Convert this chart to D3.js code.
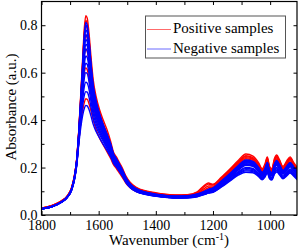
<!DOCTYPE html>
<html>
<head>
<meta charset="utf-8">
<script src="https://cdn.jsdelivr.net/npm/d3@7"></script>
<style>
  html, body { margin: 0; padding: 0; background: #fff; }
  svg { display: block; }
  svg text { font-family: "Liberation Serif", "DejaVu Serif", serif !important; }
</style>
</head>
<body>
<svg id="chart" width="300" height="251"></svg>
<script>
// ---------- data ----------
const wavenumbers = [1800,1760,1730,1710,1695,1685,1677,1670,1663,1656,1650,1645,1640,1634,1627,1619,1609,1597,1584,1571,1558,1548,1538,1528,1518,1505,1490,1470,1430,1380,1330,1290,1255,1230,1216,1200,1170,1140,1110,1085,1060,1040,1028,1018,1010,1002,994,985,977,967,955,942,930,918,905];

const positiveSamples = [
  [.030,.042,.060,.080,.115,.165,.235,.350,.500,.660,.790,.840,.830,.770,.670,.570,.500,.445,.400,.360,.310,.265,.245,.222,.200,.165,.138,.118,.100,.090,.085,.086,.098,.125,.135,.130,.160,.195,.232,.257,.248,.220,.195,.215,.245,.205,.195,.238,.253,.232,.205,.228,.245,.222,.200],
  [.028,.040,.058,.078,.112,.162,.232,.345,.490,.645,.770,.820,.805,.745,.645,.550,.485,.430,.385,.345,.300,.258,.238,.216,.195,.161,.134,.115,.098,.088,.083,.084,.095,.120,.130,.127,.156,.190,.226,.250,.242,.214,.192,.210,.240,.200,.190,.232,.248,.228,.200,.222,.240,.218,.196],
  [.029,.041,.059,.079,.113,.163,.233,.345,.488,.640,.760,.800,.785,.725,.625,.535,.472,.420,.378,.338,.295,.255,.235,.213,.192,.160,.133,.114,.097,.087,.082,.083,.092,.112,.122,.122,.152,.186,.222,.246,.238,.210,.188,.206,.236,.196,.186,.228,.244,.224,.197,.218,.236,.214,.192],
  [.030,.042,.060,.080,.114,.164,.232,.340,.475,.615,.725,.760,.745,.690,.600,.515,.455,.405,.365,.328,.288,.250,.231,.210,.189,.157,.131,.112,.096,.086,.081,.082,.090,.105,.115,.117,.148,.182,.218,.242,.235,.208,.186,.204,.233,.194,.184,.225,.241,.221,.195,.216,.233,.212,.190],
  [.029,.040,.058,.078,.110,.158,.225,.330,.455,.580,.675,.700,.690,.640,.560,.485,.430,.385,.348,.312,.275,.241,.224,.203,.183,.152,.127,.109,.094,.084,.079,.080,.087,.100,.108,.112,.142,.176,.212,.237,.230,.204,.183,.200,.228,.190,.180,.220,.236,.216,.190,.211,.228,.207,.186],
  [.028,.039,.057,.077,.108,.155,.220,.320,.430,.530,.600,.620,.612,.575,.510,.445,.400,.360,.328,.296,.262,.233,.216,.196,.176,.146,.122,.105,.091,.082,.077,.078,.085,.096,.104,.108,.138,.170,.205,.228,.222,.197,.177,.193,.220,.184,.175,.213,.228,.209,.185,.205,.221,.201,.181],
  [.027,.038,.055,.075,.105,.150,.210,.300,.385,.440,.475,.490,.488,.470,.440,.400,.360,.325,.295,.267,.238,.212,.196,.178,.160,.135,.115,.100,.088,.080,.075,.076,.082,.092,.099,.104,.130,.160,.192,.212,.207,.185,.168,.182,.205,.174,.166,.200,.213,.196,.175,.193,.207,.189,.170]
];

const negativeSamples = [
  [.027,.038,.056,.076,.110,.160,.230,.342,.485,.638,.762,.812,.800,.742,.642,.548,.482,.428,.382,.342,.300,.258,.238,.216,.193,.159,.132,.112,.095,.085,.080,.081,.089,.100,.108,.114,.144,.176,.210,.232,.226,.200,.180,.196,.222,.188,.178,.215,.230,.212,.188,.206,.222,.204,.185],
  [.026,.037,.055,.075,.108,.158,.228,.338,.478,.628,.750,.800,.788,.732,.634,.540,.476,.423,.378,.338,.296,.255,.235,.213,.191,.157,.130,.110,.094,.084,.079,.080,.088,.099,.107,.113,.142,.174,.208,.230,.224,.198,.178,.194,.220,.186,.176,.213,.228,.210,.186,.204,.220,.202,.183],
  [.027,.038,.056,.076,.109,.158,.227,.335,.470,.615,.732,.780,.768,.715,.622,.532,.468,.416,.372,.333,.292,.252,.232,.210,.189,.155,.129,.110,.093,.083,.078,.079,.087,.097,.105,.111,.140,.171,.205,.226,.220,.195,.176,.192,.216,.183,.174,.210,.224,.207,.184,.201,.217,.199,.181],
  [.025,.036,.054,.074,.107,.156,.225,.332,.462,.602,.715,.760,.750,.698,.610,.522,.460,.410,.366,.328,.288,.249,.229,.208,.187,.154,.127,.108,.092,.082,.077,.078,.086,.096,.104,.110,.138,.169,.202,.223,.217,.193,.174,.190,.213,.181,.172,.207,.221,.204,.181,.198,.214,.196,.178],
  [.026,.037,.055,.075,.107,.155,.223,.328,.455,.590,.698,.740,.730,.680,.596,.512,.452,.403,.361,.323,.284,.246,.226,.206,.185,.152,.126,.107,.091,.081,.076,.077,.085,.095,.103,.108,.136,.167,.199,.220,.214,.190,.171,.187,.210,.178,.170,.204,.218,.201,.179,.196,.211,.194,.176],
  [.027,.038,.056,.076,.108,.155,.222,.325,.448,.578,.680,.720,.712,.664,.582,.502,.444,.397,.356,.319,.281,.244,.224,.204,.183,.151,.125,.106,.091,.081,.076,.077,.084,.094,.101,.107,.134,.164,.196,.216,.211,.188,.169,.185,.207,.176,.168,.201,.215,.198,.177,.193,.208,.191,.174],
  [.025,.036,.054,.074,.106,.153,.219,.320,.440,.565,.662,.700,.692,.646,.568,.490,.435,.390,.350,.314,.277,.241,.222,.202,.181,.149,.124,.105,.090,.080,.075,.076,.083,.093,.100,.105,.132,.162,.193,.213,.208,.185,.167,.182,.204,.174,.166,.198,.212,.195,.175,.190,.205,.189,.172],
  [.026,.037,.055,.075,.106,.152,.217,.316,.430,.548,.636,.670,.664,.622,.550,.477,.424,.381,.343,.308,.272,.237,.219,.199,.179,.147,.122,.104,.089,.079,.075,.076,.082,.092,.099,.104,.130,.160,.191,.210,.205,.183,.165,.180,.201,.172,.164,.196,.209,.193,.173,.188,.203,.187,.170],
  [.025,.036,.054,.074,.105,.150,.214,.311,.420,.530,.610,.640,.635,.598,.530,.462,.413,.372,.336,.302,.268,.234,.216,.196,.176,.145,.121,.103,.088,.079,.074,.075,.081,.091,.098,.102,.128,.156,.184,.200,.196,.176,.160,.174,.194,.166,.158,.188,.200,.185,.167,.181,.194,.180,.163],
  [.026,.037,.055,.075,.105,.150,.213,.308,.410,.508,.578,.600,.596,.565,.505,.443,.398,.360,.326,.294,.262,.230,.212,.193,.174,.143,.119,.102,.087,.078,.073,.074,.080,.090,.097,.101,.125,.152,.180,.196,.192,.172,.157,.170,.190,.163,.156,.184,.195,.181,.163,.177,.190,.176,.160],
  [.025,.036,.054,.074,.104,.149,.211,.304,.398,.485,.542,.560,.556,.532,.480,.425,.385,.350,.318,.288,.257,.227,.209,.190,.171,.141,.118,.101,.086,.077,.072,.073,.079,.088,.094,.098,.122,.149,.176,.191,.187,.168,.154,.166,.185,.159,.152,.179,.190,.176,.159,.172,.185,.171,.155],
  [.026,.037,.055,.075,.104,.148,.209,.300,.388,.460,.505,.520,.518,.498,.455,.408,.372,.340,.310,.281,.252,.223,.206,.188,.170,.140,.117,.100,.086,.077,.072,.073,.078,.087,.093,.097,.120,.147,.173,.186,.183,.165,.151,.163,.181,.156,.150,.176,.186,.173,.156,.169,.181,.168,.152],
  [.025,.036,.054,.073,.102,.146,.205,.292,.365,.420,.450,.462,.460,.446,.418,.382,.352,.325,.298,.272,.245,.218,.202,.184,.166,.138,.116,.099,.085,.076,.071,.072,.077,.086,.092,.096,.118,.144,.169,.180,.178,.161,.148,.160,.177,.153,.147,.172,.181,.169,.153,.165,.177,.164,.148]
];

const xMajorTicks = [1800, 1600, 1400, 1200, 1000];
const xMinorTicks = [1700, 1500, 1300, 1100];
const yMajorTicks = [0.0, 0.2, 0.4, 0.6, 0.8];
const yMinorTicks = [0.1, 0.3, 0.5, 0.7];
const legendLabels = ["Positive samples", "Negative samples"];
const seriesColors = ["#ff0000", "#0000ff"];
const legendColors = ["#ff6b6b", "#6b6bff"];

// ---------- layout ----------
const FONT = "Liberation Serif, DejaVu Serif, serif";
const svg = d3.select("#chart").attr("font-family", FONT);
const L = 41.5, R = 297, T = 1.5, B = 215;

const x = d3.scaleLinear().domain([1800, 906]).range([L, R]);
const y = d3.scaleLinear().domain([0, 0.9]).range([B, T]);

svg.append("defs").append("clipPath").attr("id", "plotclip")
  .append("rect").attr("x", L).attr("y", T).attr("width", R - L).attr("height", B - T);

const line = d3.line()
  .x((d, i) => x(wavenumbers[i]))
  .y(d => y(d))
  .curve(d3.curveMonotoneX);

const plot = svg.append("g").attr("clip-path", "url(#plotclip)");

plot.selectAll("path.pos").data(positiveSamples).join("path")
  .attr("class", "pos")
  .attr("d", line)
  .attr("fill", "none")
  .attr("stroke", seriesColors[0])
  .attr("stroke-width", 1.4);

plot.selectAll("path.neg").data(negativeSamples).join("path")
  .attr("class", "neg")
  .attr("d", line)
  .attr("fill", "none")
  .attr("stroke", seriesColors[1])
  .attr("stroke-width", 1.4);

// ---------- axes ----------
function styleAxis(g) {
  g.attr("font-family", FONT);
  g.select(".domain").remove();
  g.selectAll(".tick line").attr("stroke", "#000").attr("stroke-width", 1);
  g.selectAll(".tick text")
    .attr("font-family", FONT)
    .attr("font-size", 14)
    .attr("fill", "#000");
}

svg.append("g").attr("transform", `translate(0,${B})`)
  .call(d3.axisBottom(x).tickValues(xMajorTicks).tickSize(-4).tickPadding(5).tickFormat(d3.format("d")))
  .call(styleAxis);
svg.append("g").attr("transform", `translate(0,${B})`)
  .call(d3.axisBottom(x).tickValues(xMinorTicks).tickSize(-3).tickFormat(""))
  .call(styleAxis);
svg.append("g").attr("transform", `translate(0,${T})`)
  .call(d3.axisTop(x).tickValues(xMajorTicks.concat(xMinorTicks)).tickSize(-3.5).tickFormat(""))
  .call(styleAxis);

svg.append("g").attr("transform", `translate(${L},0)`)
  .call(d3.axisLeft(y).tickValues(yMajorTicks).tickSize(-4).tickPadding(4).tickFormat(d3.format(".1f")))
  .call(styleAxis);
svg.append("g").attr("transform", `translate(${L},0)`)
  .call(d3.axisLeft(y).tickValues(yMinorTicks).tickSize(-3).tickFormat(""))
  .call(styleAxis);
svg.append("g").attr("transform", `translate(${R},0)`)
  .call(d3.axisRight(y).tickValues(yMajorTicks.concat(yMinorTicks)).tickSize(-3.5).tickFormat(""))
  .call(styleAxis);

svg.append("rect")
  .attr("x", L).attr("y", T).attr("width", R - L).attr("height", B - T)
  .attr("fill", "none").attr("stroke", "#000").attr("stroke-width", 1.2);

// ---------- titles ----------
const xt = svg.append("text")
  .attr("x", 169).attr("y", 245)
  .attr("text-anchor", "middle")
  .attr("font-family", FONT)
  .attr("font-size", 15);
xt.append("tspan").text("Wavenumber (cm");
xt.append("tspan").attr("dy", -5).attr("font-size", 10).text("-1");
xt.append("tspan").attr("dy", 5).text(")");

svg.append("text")
  .attr("transform", "translate(16,107) rotate(-90)")
  .attr("text-anchor", "middle")
  .attr("font-family", FONT)
  .attr("font-size", 15)
  .text("Absorbance (a.u.)");

// ---------- legend ----------
const lg = svg.append("g");
lg.append("rect")
  .attr("x", 145.5).attr("y", 16).attr("width", 140).attr("height", 42)
  .attr("fill", "#fff").attr("stroke", "#555").attr("stroke-width", 1);

legendLabels.forEach((lab, i) => {
  const yy = 29.5 + i * 19.5;
  lg.append("line")
    .attr("x1", 147).attr("x2", 171).attr("y1", yy).attr("y2", yy)
    .attr("stroke", legendColors[i]).attr("stroke-width", 1);
  lg.append("text")
    .attr("x", 173).attr("y", yy + 3.5)
    .attr("font-family", FONT)
    .attr("font-size", 15)
    .text(lab);
});
</script>
</body>
</html>
